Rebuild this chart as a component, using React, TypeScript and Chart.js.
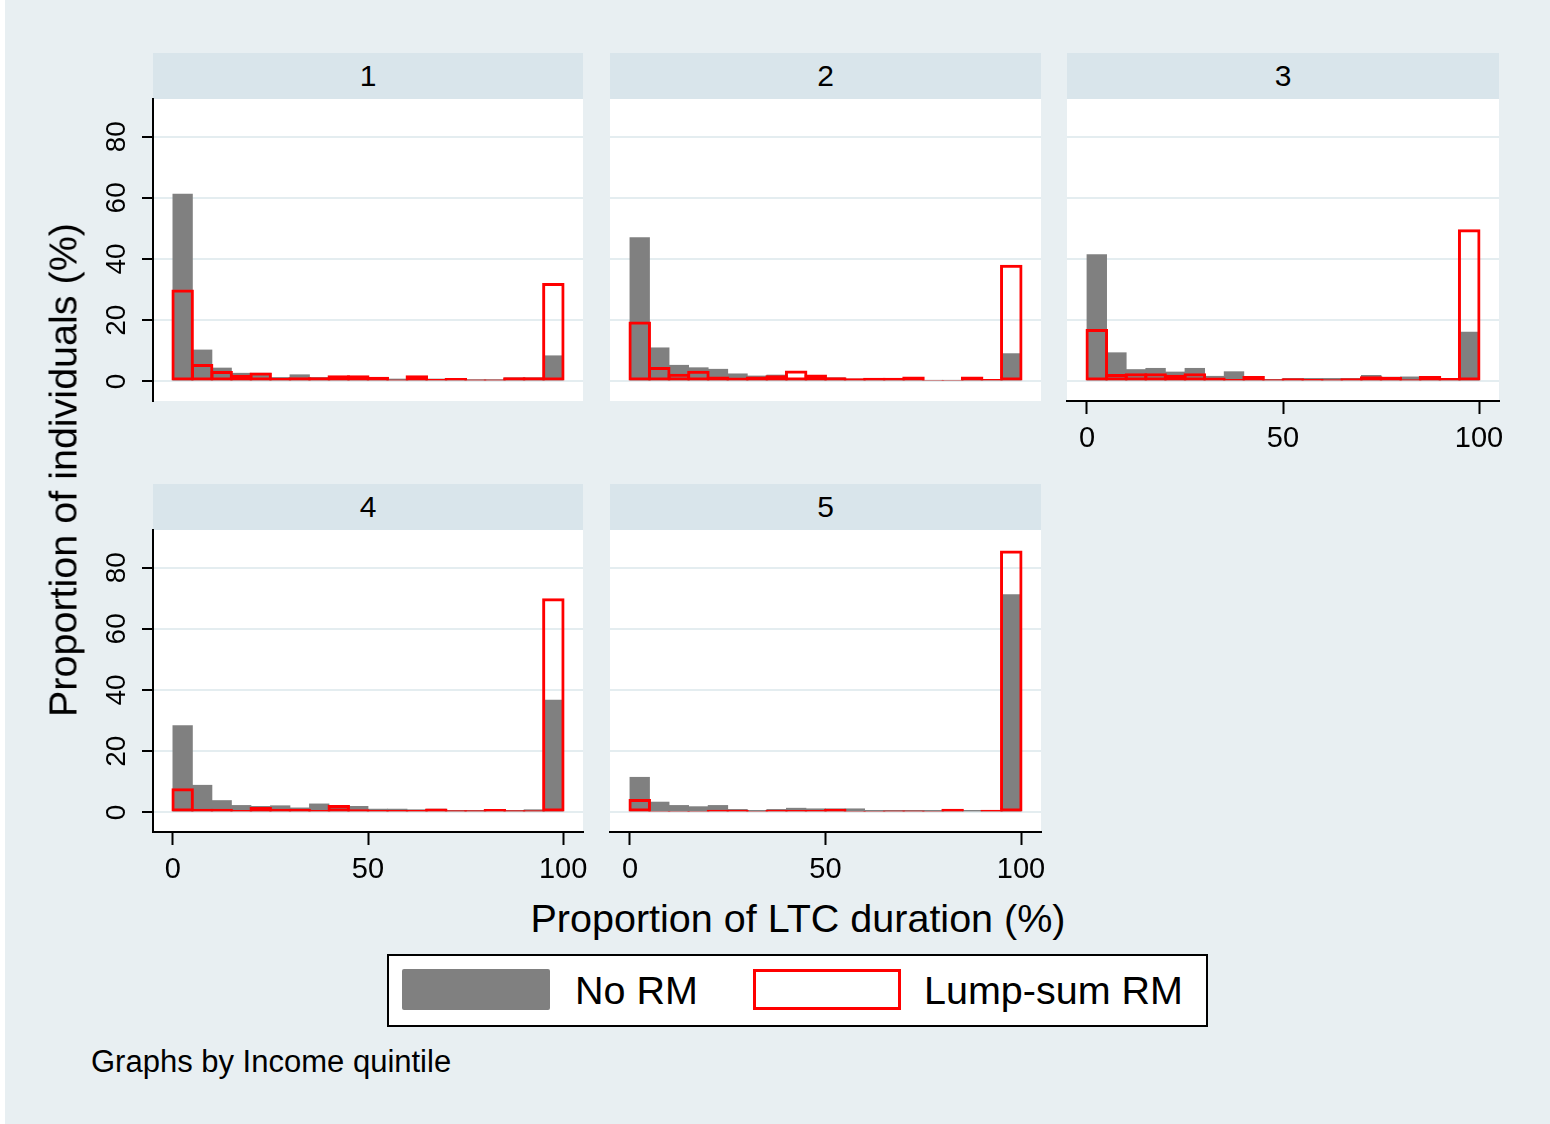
import React, { useEffect, useRef } from "react";
import { Chart, registerables } from "chart.js";

Chart.register(...registerables);

const FONT = '"Liberation Sans", Arial, Helvetica, sans-serif';

// ---------- data ----------
const binMids = [2.5, 7.5, 12.5, 17.5, 22.5, 27.5, 32.5, 37.5, 42.5, 47.5, 52.5, 57.5, 62.5, 67.5, 72.5, 77.5, 82.5, 87.5, 92.5, 97.5];
const xTicks = [0, 50, 100];
const yTicks = [0, 20, 40, 60, 80];
const panelLabels = ["1", "2", "3", "4", "5"];
const seriesNames = ["No RM", "Lump-sum RM"];

const noRM1 = [61.3, 10.4, 4.5, 2.8, 2.8, 1.4, 2.3, 1.4, 1.6, 1.6, 0.9, 0.9, 0.9, 0.9, 0.9, 0.7, 0.7, 1.3, 1.3, 8.5];
const lump1 = [30.0, 5.7, 3.4, 2.2, 2.9, 1.2, 1.4, 1.4, 2.0, 2.0, 1.5, 0.6, 2.0, 0.8, 1.1, 0.6, 0.6, 1.4, 1.4, 32.2];
const noRM2 = [47.1, 11.1, 5.4, 4.6, 4.1, 2.6, 1.9, 2.2, 1.1, 1.9, 1.3, 0.9, 1.1, 1.1, 1.1, 0.5, 0.5, 0.8, 0.8, 9.2];
const lump2 = [19.6, 4.7, 2.5, 3.5, 1.6, 1.3, 1.6, 2.0, 3.6, 2.3, 1.4, 1.0, 1.2, 1.2, 1.6, 0.5, 0.5, 1.6, 0.8, 38.1];
const noRM3 = [41.6, 9.5, 4.0, 4.4, 3.2, 4.4, 1.8, 3.3, 1.5, 0.8, 1.1, 1.1, 1.1, 1.1, 2.1, 1.5, 1.6, 1.3, 1.1, 16.2];
const lump3 = [17.1, 2.4, 2.7, 2.7, 2.2, 2.7, 1.3, 0.8, 1.8, 0.7, 1.0, 0.8, 0.7, 1.0, 1.7, 1.5, 0.7, 1.8, 1.1, 49.7];
const noRM4 = [28.5, 9.0, 4.0, 2.4, 2.1, 2.3, 1.6, 2.9, 2.1, 2.1, 1.2, 1.2, 1.0, 1.2, 0.8, 0.8, 1.0, 0.8, 1.0, 36.8];
const lump4 = [7.9, 1.2, 1.2, 0.8, 1.8, 1.2, 1.2, 0.8, 2.4, 1.0, 0.8, 0.8, 0.8, 1.3, 0.7, 0.7, 1.1, 0.7, 0.7, 70.0];
const noRM5 = [11.6, 3.5, 2.4, 2.0, 2.4, 1.1, 0.8, 1.1, 1.5, 1.3, 1.3, 1.3, 0.8, 0.8, 0.8, 0.8, 1.0, 0.8, 0.8, 71.3];
const lump5 = [4.4, 0.5, 0.5, 0.5, 0.9, 0.9, 0.5, 0.9, 0.8, 0.8, 1.2, 0.5, 0.5, 0.6, 0.6, 0.5, 1.2, 0.3, 0.9, 85.6];

const noRMSeries = [noRM1, noRM2, noRM3, noRM4, noRM5];
const lumpSeries = [lump1, lump2, lump3, lump4, lump5];

// ---------- layout ----------
const BG = "#e8eff2";
const HEADER_BG = "#d9e5eb";
const GRID = "#e4edf0";
const GRAY = "#808080";
const RED = "#ff0000";

const PAD_L = 120;
const PAD_T = 40;
const PAD_R = 40;
const PAD_B = 60;
const HEADER_H = 46;

const panels = [
  { left: 153, top: 99, width: 430, height: 302, showX: false, showY: true },
  { left: 610, top: 99, width: 431, height: 302, showX: false, showY: false },
  { left: 1067, top: 99, width: 432, height: 302, showX: true, showY: false },
  { left: 153, top: 530, width: 430, height: 302, showX: true, showY: true },
  { left: 610, top: 530, width: 431, height: 302, showX: true, showY: false },
];

const plotBg = {
  id: "plotBg",
  beforeDraw(chart: any) {
    const { ctx, chartArea: a } = chart;
    ctx.save();
    ctx.fillStyle = "#ffffff";
    ctx.fillRect(a.left, a.top, a.right - a.left, a.bottom - a.top);
    ctx.restore();
  },
};

function Panel(props: { idx: number }) {
  const p = panels[props.idx];
  const ref = useRef<HTMLCanvasElement | null>(null);
  const noRM = noRMSeries[props.idx];
  const lump = lumpSeries[props.idx];

  useEffect(() => {
    if (!ref.current) return;
    const { showX, showY } = p;
    const chart = new Chart(ref.current, {
      type: "bar",
      data: {
        datasets: [
          {
            label: seriesNames[1],
            data: binMids.map((x, i) => ({ x, y: lump[i] })),
            backgroundColor: "rgba(0,0,0,0)",
            borderColor: RED,
            borderWidth: 3,
            borderSkipped: false,
            barPercentage: 1.15,
            categoryPercentage: 1,
            grouped: false,
          } as any,
          {
            label: seriesNames[0],
            data: binMids.map((x, i) => ({ x, y: noRM[i] })),
            backgroundColor: GRAY,
            borderWidth: 0,
            barPercentage: 1.04,
            categoryPercentage: 1,
            grouped: false,
          } as any,
        ],
      },
      options: {
        responsive: false,
        animation: false,
        events: [],
        layout: {
          padding: {
            top: PAD_T,
            right: PAD_R,
            left: showY ? 0 : PAD_L,
            bottom: showX ? 0 : PAD_B,
          },
        },
        plugins: {
          legend: { display: false },
          tooltip: { enabled: false },
        },
        scales: {
          x: {
            type: "linear",
            min: -5.1,
            max: 105.1,
            offset: false,
            afterBuildTicks: (s: any) => {
              s.ticks = xTicks.map((v) => ({ value: v }));
            },
            afterFit: (s: any) => {
              s.height = showX ? PAD_B : 0;
            },
            grid: {
              display: showX,
              offset: false,
              drawOnChartArea: false,
              drawTicks: true,
              tickLength: 13,
              tickColor: "#000",
              tickWidth: 2,
            },
            border: { display: showX, color: "#000", width: 2 },
            ticks: {
              display: showX,
              autoSkip: false,
              maxRotation: 0,
              minRotation: 0,
              padding: 8,
              color: "#000",
              font: { family: FONT, size: 29 },
              callback: (v: any) => String(v),
            },
          },
          y: {
            type: "linear",
            min: -6.4,
            max: 92.3,
            afterBuildTicks: (s: any) => {
              s.ticks = yTicks.map((v) => ({ value: v }));
            },
            afterFit: (s: any) => {
              s.width = showY ? PAD_L : 0;
            },
            grid: {
              display: true,
              drawOnChartArea: true,
              color: GRID,
              lineWidth: 2,
              drawTicks: showY,
              tickLength: 11,
              tickColor: "#000",
              tickWidth: 2,
            },
            border: { display: showY, color: "#000", width: 2 },
            ticks: {
              display: showY,
              autoSkip: false,
              minRotation: 90,
              maxRotation: 90,
              crossAlign: "center",
              padding: 9,
              color: "#000",
              font: { family: FONT, size: 28 },
              callback: (v: any) => String(v),
            },
          },
        } as any,
      },
      plugins: [plotBg],
    });
    return () => chart.destroy();
  }, []);

  const cw = p.width + PAD_L + PAD_R;
  const ch = p.height + PAD_T + PAD_B;
  return (
    <>
      <div
        style={{
          position: "absolute",
          left: p.left,
          top: p.top - HEADER_H,
          width: p.width,
          height: HEADER_H,
          background: HEADER_BG,
          display: "flex",
          alignItems: "center",
          justifyContent: "center",
          fontFamily: FONT,
          fontSize: 30,
          color: "#000",
        }}
      >
        {panelLabels[props.idx]}
      </div>
      <canvas
        ref={ref}
        width={cw}
        height={ch}
        style={{
          position: "absolute",
          left: p.left - PAD_L,
          top: p.top - PAD_T,
          width: cw,
          height: ch,
        }}
      />
    </>
  );
}

export default function App() {
  return (
    <div
      style={{
        position: "absolute",
        left: 0,
        top: 0,
        width: 1550,
        height: 1124,
        background: "#ffffff",
        overflow: "hidden",
        fontFamily: FONT,
      }}
    >
      <div style={{ position: "absolute", left: 5, top: 0, width: 1545, height: 1124, background: BG }} />
      {panels.map((_, i) => (
        <Panel key={i} idx={i} />
      ))}
      <div
        style={{
          position: "absolute",
          left: 63,
          top: 470,
          transform: "translate(-50%, -50%) rotate(-90deg)",
          whiteSpace: "nowrap",
          fontSize: 39.5,
          color: "#000",
        }}
      >
        Proportion of individuals (%)
      </div>
      <div
        style={{
          position: "absolute",
          left: 798,
          top: 918,
          transform: "translate(-50%, -50%)",
          whiteSpace: "nowrap",
          fontSize: 39.5,
          color: "#000",
        }}
      >
        Proportion of LTC duration (%)
      </div>
      <div
        style={{
          position: "absolute",
          left: 387,
          top: 954,
          width: 821,
          height: 73,
          boxSizing: "border-box",
          border: "2px solid #000",
          background: "#ffffff",
        }}
      >
        <div style={{ position: "absolute", left: 13, top: 13, width: 148, height: 41, background: GRAY, borderRadius: 2 }} />
        <div style={{ position: "absolute", left: 186, top: 0, height: 69, display: "flex", alignItems: "center", fontSize: 39.5, whiteSpace: "nowrap" }}>
          {seriesNames[0]}
        </div>
        <div style={{ position: "absolute", left: 364, top: 13, width: 148, height: 41, boxSizing: "border-box", border: "3px solid " + RED, background: "#fff" }} />
        <div style={{ position: "absolute", left: 535, top: 0, height: 69, display: "flex", alignItems: "center", fontSize: 39.5, whiteSpace: "nowrap" }}>
          {seriesNames[1]}
        </div>
      </div>
      <div
        style={{
          position: "absolute",
          left: 91,
          top: 1062,
          transform: "translateY(-50%)",
          whiteSpace: "nowrap",
          fontSize: 31,
          color: "#000",
        }}
      >
        Graphs by Income quintile
      </div>
    </div>
  );
}
